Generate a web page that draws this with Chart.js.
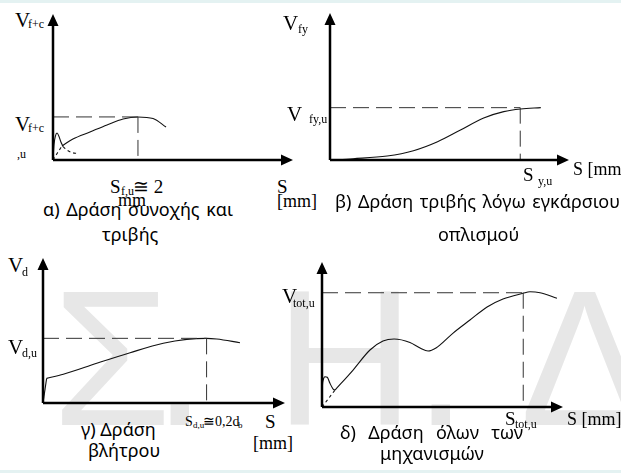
<!DOCTYPE html>
<html><head><meta charset="utf-8">
<script src="https://cdn.jsdelivr.net/npm/chart.js@4/dist/chart.umd.min.js"></script>
<style>
html,body{margin:0;padding:0;background:#fff;}
#root{position:relative;width:621px;height:473px;overflow:hidden;background:#fff;}
.band{position:absolute;left:0;width:621px;background:#e4f2f2;z-index:5;}
.wm{position:absolute;font-family:"Liberation Sans",Arial,sans-serif;font-size:193px;color:#e7e7e7;line-height:1;white-space:nowrap;z-index:0;}
canvas{position:absolute;z-index:2;}
.lbl{position:absolute;font-family:"Liberation Serif","Times New Roman",serif;white-space:pre;line-height:1;z-index:3;color:#000;}
.ttl{position:absolute;font-family:"Noto Sans",sans-serif;white-space:pre;line-height:1;z-index:3;color:#000;}
</style>
</head><body>
<div id="root">
  <div class="band" style="top:0;height:3px"></div>
  <div class="band" style="top:470px;height:3px"></div>
</div>
<script>
// ---------- data (arbitrary units 0..100) ----------
// (a) cohesion + friction
const A_main_x = [3.75, 8.3, 15.4, 22.5, 29.2, 35.4, 41.7, 47.1];
const A_main_y = [9.6, 14.4, 19.2, 24.0, 28.1, 29.5, 28.4, 22.6];
const A_bump_x = [0, 0.4, 1.0, 1.67, 2.5, 3.3, 4.2];
const A_bump_y = [0, 10.3, 16.4, 18.5, 16.1, 12.3, 9.2];
const A_tail_x = [4.2, 5.8, 7.9, 10];
const A_tail_y = [9.2, 6.8, 5.1, 4.5];
const A_rise_x = [0, 1.7, 3.75];
const A_rise_y = [0, 4.5, 9.6];
const A_ult = [35.4, 29.5];          // S_f,u , V_f+c,u

// (b) friction due to transverse reinforcement
const B_x = [0, 9.7, 23.9, 34.9, 45, 54.6, 64.3, 72.7, 79.8, 88.2];
const B_y = [0, 0.9, 2.7, 6.3, 12.4, 20.4, 28.6, 32.9, 34.7, 35.6];
const B_ult = [79.6, 35.6];          // S_y,u , V_fy,u

// (c) dowel action
const C_jump_x = [0, 1.5];
const C_jump_y = [0, 17.0];
const C_x = [1.5, 8.4, 22.2, 36.0, 49.7, 59.4, 67.6, 71.8, 81.4];
const C_y = [17.0, 19.8, 27.4, 34.7, 41.2, 43.9, 44.6, 44.1, 41.6];
const C_ult = [67.6, 44.6];          // S_d,u , V_d,u

// (d) all mechanisms
const D_bump_x = [0, 0.1, 0.5, 1.24, 2.2, 3.3, 4.7, 5.4];
const D_bump_y = [0, 11.7, 18.6, 20.9, 20.5, 16.3, 12.2, 11.7];
const D_rise_x = [0, 5.4];
const D_rise_y = [0, 11.7];
const D_main_x = [5.4, 12.9, 19.9, 25.3, 29.9, 36.5, 40.7, 44.0, 47.3, 54.4, 61.4, 68.5, 75.1, 83.4, 86.3, 90.5, 97.5];
const D_main_y = [11.7, 25.5, 39.3, 45.5, 46.9, 44.5, 40.7, 38.6, 40.7, 51.0, 60.0, 69.0, 74.5, 78.4, 79.5, 78.8, 75.0];
const D_ult = [83.5, 78.8];          // S_tot,u , V_tot,u

// ---------- text ----------
const labels = [
  // [text, x, baseline, size]
  ['V',15,28,21],['f+c',28,28,12],
  ['V',15,132,21],['f+c',28,132,12],[',u',17,158,12],
  ['S',110,193,19],['f,u',121,195,12],['≅ 2',133,193,19],['mm',118,206,18],
  ['S',277,193,19],['[mm]',277,207,18],
  ['V',283,31,21],['fy',298,33,12],
  ['V',287,122,21],['fy,u',309,123,12],
  ['S',523,181,19],['y,u',538,185,12],
  ['S [mm]',573,175,18],
  ['V',8,273,21],['d',22,276,12],
  ['V',8,355,21],['d,u',22,357,12],
  ['S',185,427,14],['d,u',193,429,9],['≅0,2d',203,427,14],['b',238,429,9],
  ['S',265,428,19],['[mm]',253,449,18],
  ['V',282,304,21],['tot,u',293,307,12],
  ['S',505,425,19],['tot,u',515,428,12],
  ['S [mm]',567,425,18]
];
// [text, left, right (0 = natural width), baseline]
const titles = [
  ['α) Δράση συνοχής και',43,233,216],['τριβής',102,0,241],
  ['β) Δράση τριβής λόγω εγκάρσιου',335,620,208],['οπλισμού',438,0,241],
  ['γ) Δράση',81,0,436],['βλήτρου',88,0,457],
  ['δ) Δράση όλων των',340,523,439],['μηχανισμών',380,0,460]
];
const watermark = [['Σ',52],['.',153],['Η',275],['.',414],['Δ',520]];

const root = document.getElementById('root');
function addText(cls, txt, x, base, size, k){
  const s = document.createElement('div');
  s.className = cls; s.textContent = txt;
  s.style.fontSize = size + 'px';
  s.style.left = x + 'px';
  s.style.top = (base - k*size) + 'px';
  root.appendChild(s);
  return s;
}
watermark.forEach(w => addText('wm', w[0], w[1], 425, 193, 0.8465));
labels.forEach(l => addText('lbl', l[0], l[1], l[2], l[3], 0.8375));
titles.forEach(t => {
  const el = addText('ttl', t[0], t[1], t[3], 18, 0.888);
  if (t[2]) {
    const n = (t[0].match(/ /g) || []).length;
    const extra = (t[2] - t[1]) - el.getBoundingClientRect().width;
    if (n) el.style.wordSpacing = (extra / n) + 'px';
  }
});

// ---------- charts ----------
const zip = (xs, ys) => xs.map((x,i) => ({x, y: ys[i]}));
const curve = (xs, ys, dash, smooth=true) => ({
  data: zip(xs, ys), showLine: true, borderColor: '#111', borderWidth: 1.1,
  borderDash: dash || [], pointRadius: 0, fill: false,
  cubicInterpolationMode: smooth ? 'monotone' : 'default', tension: 0
});
const guides = (ult) => [
  {data: [{x:0,y:ult[1]},{x:ult[0],y:ult[1]}], showLine:true, borderColor:'#333', borderWidth:1, borderDash:[16,7], pointRadius:0},
  {data: [{x:ult[0],y:ult[1]},{x:ult[0],y:0}], showLine:true, borderColor:'#333', borderWidth:1, borderDash:[16,7], pointRadius:0}
];

const arrowAxes = {
  id: 'arrowAxes',
  afterDatasetsDraw(chart){
    const {ctx, chartArea: a} = chart;
    const L = 12, H = 5.5;
    ctx.save();
    ctx.strokeStyle = '#000'; ctx.fillStyle = '#000'; ctx.lineWidth = 2.5;
    ctx.beginPath();
    ctx.moveTo(a.left, a.bottom); ctx.lineTo(a.right - L + 1, a.bottom);
    ctx.moveTo(a.left, a.bottom); ctx.lineTo(a.left, a.top + L - 1);
    ctx.stroke();
    ctx.beginPath();
    ctx.moveTo(a.right, a.bottom); ctx.lineTo(a.right - L, a.bottom - H); ctx.lineTo(a.right - L, a.bottom + H); ctx.closePath();
    ctx.moveTo(a.left, a.top); ctx.lineTo(a.left - H, a.top + L); ctx.lineTo(a.left + H, a.top + L); ctx.closePath();
    ctx.fill();
    ctx.restore();
  }
};

function makeChart(box, datasets){
  const P = 8;
  const c = document.createElement('canvas');
  const w = box.right - box.ox + 2*P, h = box.oy - box.top + 2*P;
  c.width = w; c.height = h;
  c.style.left = (box.ox - P) + 'px'; c.style.top = (box.top - P) + 'px';
  c.style.width = w + 'px'; c.style.height = h + 'px';
  root.appendChild(c);
  new Chart(c, {
    type: 'scatter',
    data: {datasets},
    options: {
      responsive: false, animation: false, devicePixelRatio: 1,
      layout: {padding: P},
      plugins: {legend: {display: false}, tooltip: {enabled: false}},
      scales: {
        x: {type: 'linear', min: 0, max: 100, display: false},
        y: {type: 'linear', min: 0, max: 100, display: false}
      }
    },
    plugins: [arrowAxes]
  });
}

makeChart({ox:53, oy:160, right:293, top:14}, [
  ...guides(A_ult),
  curve(A_main_x, A_main_y),
  curve(A_bump_x, A_bump_y),
  curve(A_tail_x, A_tail_y, [3,3]),
  curve(A_rise_x, A_rise_y, [3,3])
]);
makeChart({ox:330, oy:160, right:569, top:13}, [
  ...guides(B_ult),
  curve(B_x, B_y)
]);
makeChart({ox:43, oy:403, right:285, top:258}, [
  ...guides(C_ult),
  curve(C_jump_x, C_jump_y, null, false),
  curve(C_x, C_y)
]);
makeChart({ox:322, oy:407, right:563, top:262}, [
  ...guides(D_ult),
  curve(D_bump_x, D_bump_y),
  curve(D_rise_x, D_rise_y, [3,3], false),
  curve(D_main_x, D_main_y)
]);
</script>
</body></html>
